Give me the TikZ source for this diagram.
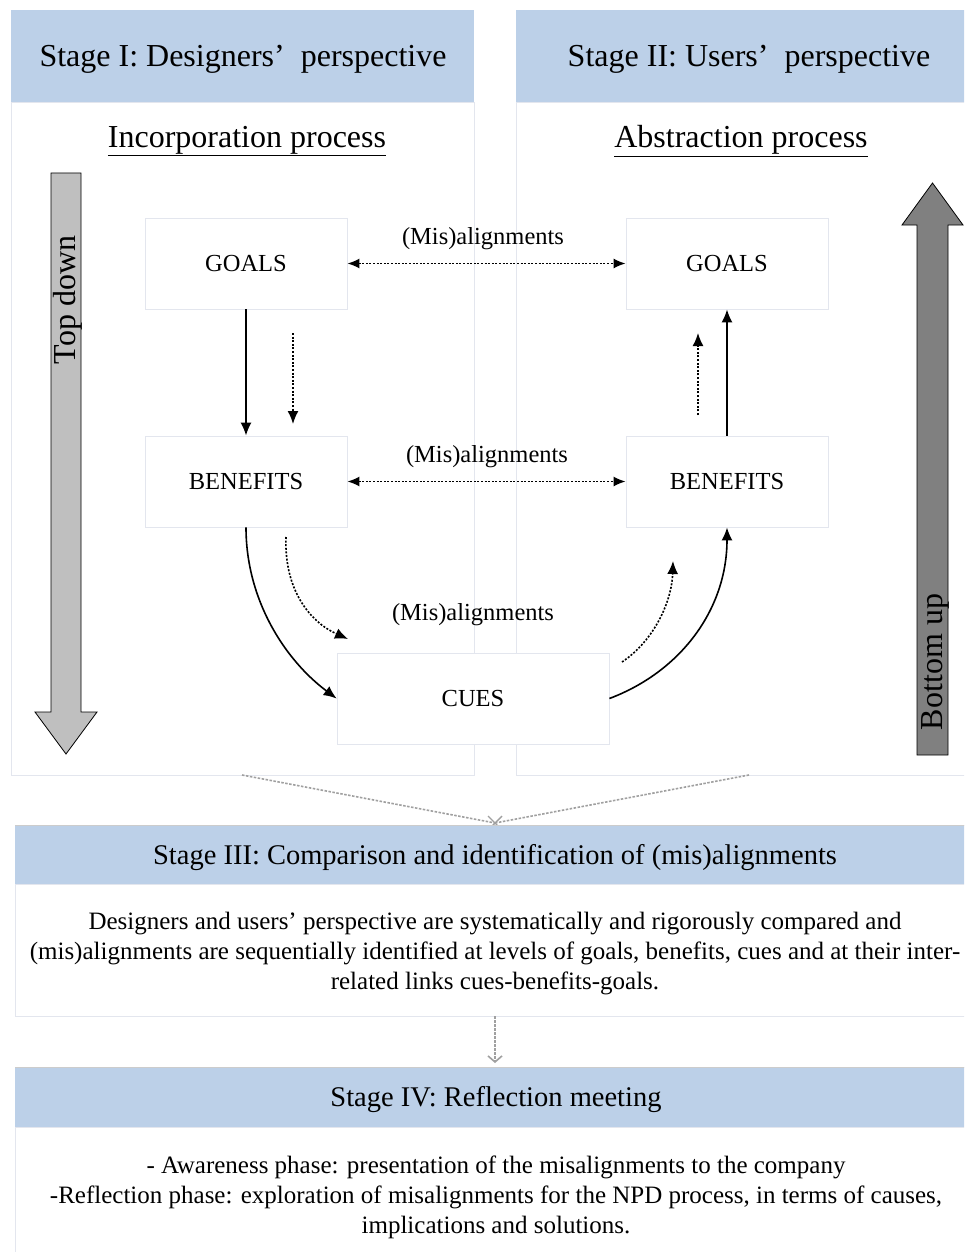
\documentclass[tikz,border=0pt]{standalone}
\usepackage{fontspec}
\setmainfont{Liberation Serif}
\usetikzlibrary{arrows.meta}

\definecolor{hdrblue}{HTML}{BCD0E8}
\definecolor{panelline}{HTML}{E3E6EE}
\definecolor{linkgray}{HTML}{A0A0A0}

\begin{document}
\begin{tikzpicture}[x=1pt,y=-1pt,
  header/.style={fill=hdrblue},
  panel/.style={draw=panelline, line width=0.8pt},
  hdrtext/.style={font=\fontsize{32}{36}\selectfont},
  hdrtextsm/.style={font=\fontsize{28.5}{34}\selectfont},
  bodytext/.style={font=\fontsize{25}{30}\selectfont, align=center},
  levelbox/.style={draw=panelline, fill=white, line width=0.8pt,
    minimum width=202pt, minimum height=91pt, inner sep=0pt,
    font=\fontsize{24.5}{30}\selectfont},
  mislabel/.style={font=\fontsize{24.5}{30}\selectfont},
  solidlink/.style={-{Latex[length=13pt,width=11pt]}, line width=1.6pt},
  dotlink/.style={-{Latex[length=13pt,width=11pt]}, line width=1.6pt, dash pattern=on 2pt off 1.6pt},
  bothlink/.style={{Latex[length=12pt,width=10pt]}-{Latex[length=12pt,width=10pt]}, line width=1.6pt, dash pattern=on 2pt off 1.6pt},
  graylink/.style={draw=linkgray, line width=1.6pt, dash pattern=on 2.5pt off 1.5pt},
  bigarrow/.style={draw=black, line width=0.8pt}
]
\clip (0,0) rectangle (964,1252);
\fill[white] (0,0) rectangle (964,1252);

% Stage I and Stage II panels
\fill[header] (11,10) rectangle (474,102);
\draw[panel] (11,102) rectangle (474,775);
\node[hdrtext] (h1) at (243,59) {Stage I: Designers’\ \ perspective};
\fill[header] (516,10) rectangle (982,102);
\draw[panel] (516,102) rectangle (982,775);
\node[hdrtext] (h2) at (749,59) {Stage II: Users’\ \ perspective};

\node[hdrtext] (inc) at (247,141) {\underline{Incorporation process}};
\node[hdrtext] (abs) at (741,141) {\underline{Abstraction process}};

% Direction arrows
\filldraw[bigarrow, fill=black!25] (51,173) -- (81,173) -- (81,712) -- (97,712)
  -- (66,754) -- (35,712) -- (51,712) -- cycle;
\node[hdrtext, rotate=90] (td) at (68,300) {Top down};
\filldraw[bigarrow, fill=black!50] (917,755) -- (948,755) -- (948,225) -- (963,225)
  -- (932.5,183) -- (902,225) -- (917,225) -- cycle;
\node[hdrtext, rotate=90] (bu) at (935,662) {Bottom up};

% Levels
\node[levelbox] (g1) at (246,263.5) {GOALS};
\node[levelbox] (g2) at (727,263.5) {GOALS};
\node[levelbox] (b1) at (246,481.5) {BENEFITS};
\node[levelbox] (b2) at (727,481.5) {BENEFITS};
\node[levelbox, minimum width=272pt] (cues) at (473,698.5) {CUES};

\node[mislabel] (m1) at (483,239) {(Mis)alignments};
\node[mislabel] (m2) at (487,457) {(Mis)alignments};
\node[mislabel] (m3) at (473,615) {(Mis)alignments};

\draw[bothlink] (g1.east) -- (g2.west);
\draw[bothlink] (b1.east) -- (b2.west);

% Designers' side links
\coordinate (d1s) at (293,333);
\coordinate (d1e) at (293,424);
\draw[solidlink] (g1.south) -- (b1.north);
\draw[dotlink] (d1s) -- (d1e);
\draw[solidlink] (b1.south) .. controls (246,600) and (285,660) .. (cues.west);
\coordinate (d2s) at (286,537);
\coordinate (d2e) at (348,639);
\draw[dotlink] (d2s) .. controls (284,590) and (310,622) .. (d2e);

% Users' side links
\coordinate (u1s) at (698,415);
\coordinate (u1e) at (698,333);
\draw[solidlink] (b2.north) -- (g2.south);
\draw[dotlink] (u1s) -- (u1e);
\draw[solidlink] (cues.east) .. controls (680,672) and (727,610) .. (b2.south);
\coordinate (u2s) at (622,662);
\coordinate (u2e) at (673,561);
\draw[dotlink] (u2s) .. controls (655,640) and (672,600) .. (u2e);

% Merge into Stage III
\coordinate (p1) at (242,775);
\coordinate (p2) at (749,775);
\coordinate (mg) at (495,823);
\draw[graylink] (p1) -- (mg);
\draw[graylink] (p2) -- (mg);
\draw[draw=linkgray, line width=1.4pt] (488,816) -- (502,830) (488,830) -- (502,816);

% Stage III
\fill[header] (15,825) rectangle (982,884);
\draw[draw=black!20, line width=0.6pt] (15,825) -- (982,825);
\draw[panel] (15,884) rectangle (982,1016);
\node[hdrtextsm] (h3) at (495,858) {Stage III: Comparison and identification of (mis)alignments};
\node[bodytext] (t3) at (495,954) {Designers and users’ perspective are systematically and rigorously compared and\\
(mis)alignments are sequentially identified at levels of goals, benefits, cues and at their inter-\\
related links cues-benefits-goals.};

\coordinate (a3) at (495,1016);
\coordinate (a4) at (495,1063);
\draw[graylink, -{Straight Barb[length=6pt,width=14pt]}] (a3) -- (a4);

% Stage IV
\fill[header] (15,1067) rectangle (982,1127);
\draw[draw=black!20, line width=0.6pt] (15,1067) -- (982,1067);
\draw[panel] (15,1127) rectangle (982,1270);
\node[hdrtextsm] (h4) at (496,1100) {Stage IV: Reflection meeting};
\node[bodytext] (t4) at (496,1197) {- Awareness phase: presentation of the misalignments to the company\\
-Reflection phase: exploration of misalignments for the NPD process, in terms of causes,\\
implications and solutions.};
\end{tikzpicture}
\end{document}
